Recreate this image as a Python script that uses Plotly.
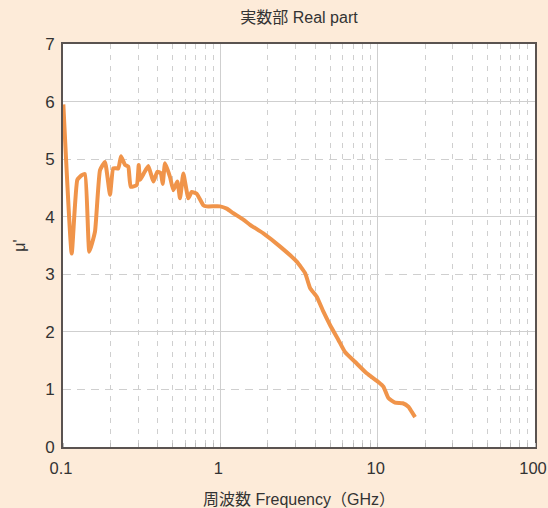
import plotly.graph_objects as go

freq_ghz = [0.1005, 0.1136, 0.1233, 0.1315, 0.138, 0.147, 0.1597, 0.1719, 0.1849, 0.199,
            0.2088, 0.2247, 0.2338, 0.248, 0.26, 0.2694, 0.2942, 0.3029, 0.3088, 0.3273,
            0.3486, 0.3752, 0.3977, 0.4179, 0.4303, 0.4452, 0.4787, 0.5025, 0.533, 0.5543,
            0.5819, 0.626, 0.658, 0.7079, 0.7797, 0.8195, 0.9956, 1.098, 1.21, 1.40,
            1.545, 1.877, 2.40, 3.06, 3.46, 3.72, 4.10, 4.52, 4.98, 5.63,
            6.20, 7.36, 8.52, 10.1, 10.87, 11.7, 12.9, 14.44, 15.68, 16.48, 17.29]
mu_real = [5.95, 3.36, 4.64, 4.72, 4.74, 3.39, 3.74, 4.81, 4.95, 4.38,
           4.84, 4.84, 5.05, 4.90, 4.87, 4.52, 4.55, 4.90, 4.64, 4.76,
           4.88, 4.61, 4.78, 4.76, 4.57, 4.93, 4.69, 4.46, 4.61, 4.32,
           4.75, 4.32, 4.43, 4.40, 4.20, 4.18, 4.18, 4.14, 4.06, 3.95,
           3.86, 3.71, 3.48, 3.22, 3.02, 2.76, 2.61, 2.35, 2.12, 1.86,
           1.65, 1.45, 1.28, 1.13, 1.05, 0.85, 0.77, 0.76, 0.70, 0.61, 0.52]

title_text = "実数部 Real part"
x_title = "周波数 Frequency（GHz）"
y_title = "μ'"

FONT = "Liberation Sans, Arial, Noto Sans CJK JP, sans-serif"
BG = "#fdebd9"
FRAME = "#5a5350"

fig = go.Figure()
fig.add_trace(go.Scatter(x=freq_ghz, y=mu_real, mode="lines",
                         line=dict(color="#f0944a", width=4, shape="spline", smoothing=0.4),
                         showlegend=False))
# invisible trace to activate the secondary y axis (solid grid every 2)
fig.add_trace(go.Scatter(x=[freq_ghz[0]], y=[mu_real[0]], yaxis="y2", mode="markers",
                         marker=dict(opacity=0), showlegend=False, hoverinfo="skip"))

fig.update_layout(
    width=548, height=508,
    margin=dict(l=63, r=13, t=44, b=61, autoexpand=False),
    paper_bgcolor=BG, plot_bgcolor="white",
    font=dict(family=FONT, color="#333333", size=17),
    title=dict(text=title_text, x=0.5, xref="paper", xanchor="center",
               y=0.965, yref="container", yanchor="middle",
               font=dict(size=16, family=FONT, color="#333333")),
    xaxis=dict(type="log", range=[-1, 2], dtick=1, automargin=False,
               showgrid=True, gridcolor="#cfcfcf", gridwidth=1,
               ticks="outside", ticklen=5, tickcolor="rgba(0,0,0,0)",
               tickfont=dict(size=16.5), ticklabelshift=-2,
               ticklabeloverflow="allow",
               showline=True, linecolor=FRAME, linewidth=2, mirror=True,
               zeroline=False,
               minor=dict(dtick="D1", showgrid=True, gridcolor="#cfcfcf",
                          griddash="5px,6px", gridwidth=1,
                          ticks="inside", ticklen=4, tickcolor="#bbbbbb"),
               title=dict(text=x_title, font=dict(size=16, family=FONT), standoff=18)),
    yaxis=dict(range=[0, 7], dtick=1, tick0=0, automargin=False,
               showgrid=True, gridcolor="#cfcfcf", griddash="8px,6px", gridwidth=1,
               ticks="outside", ticklen=3, tickcolor="rgba(0,0,0,0)",
               tickfont=dict(size=17),
               showline=True, linecolor=FRAME, linewidth=2, mirror=True,
               zeroline=False,
               title=dict(text=y_title, font=dict(size=16, family=FONT), standoff=16)),
    yaxis2=dict(range=[0, 7], dtick=2, tick0=0, overlaying="y", side="left",
                automargin=False,
                showgrid=True, gridcolor="#cfcfcf", gridwidth=1,
                showticklabels=False, zeroline=False, showline=False),
)

fig.write_html("out.html", config={"displayModeBar": False},
               post_script="document.body.style.margin='0';")
